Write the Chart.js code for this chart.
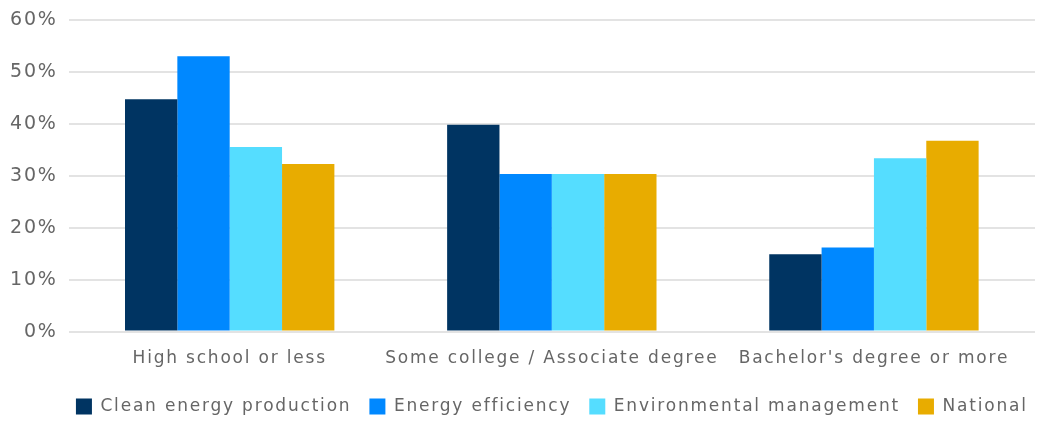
<!DOCTYPE html>
<html>
<head>
<meta charset="utf-8">
<script src="https://cdn.jsdelivr.net/npm/chart.js@4"></script>
<style>
  html, body { margin: 0; padding: 0; background: #fff; }
  #wrap { width: 1037px; height: 421px; }
</style>
</head>
<body>
<div id="wrap"><canvas id="myChart"></canvas></div>
<script>
var labels = ['High school or less', 'Some college / Associate degree', "Bachelor's degree or more"];
var cleanEnergy = [44.8, 39.9, 14.9];
var energyEfficiency = [53.1, 30.4, 16.2];
var environmental = [35.6, 30.4, 33.4];
var national = [32.3, 30.4, 36.8];
var yTicks = [0, 10, 20, 30, 40, 50, 60];

var ctx = document.getElementById('myChart').getContext('2d');
var font = 'DejaVu Sans';

// the original text is set quite loose, so widen it a bit
var spacing = {
    id: 'spacing',
    beforeLayout: function (chart) { chart.ctx.letterSpacing = '1.8px'; },
    beforeDraw: function (chart) { chart.ctx.letterSpacing = '1.8px'; },
    // legend is centred under the plot, not under the whole canvas
    afterLayout: function (chart) {
        var lg = chart.legend;
        var d = (chart.chartArea.left + chart.chartArea.right) / 2 - (lg.left + lg.right) / 2;
        lg.left += d;
        lg.right += d;
    }
};

var myChart = new Chart(ctx, {
    type: 'bar',
    data: {
        labels: labels,
        datasets: [
            { label: 'Clean energy production', data: cleanEnergy, backgroundColor: '#003462' },
            { label: 'Energy efficiency', data: energyEfficiency, backgroundColor: '#0088ff' },
            { label: 'Environmental management', data: environmental, backgroundColor: '#55ddff' },
            { label: 'National', data: national, backgroundColor: '#e8ac00' }
        ]
    },
    plugins: [spacing],
    options: {
        responsive: true,
        maintainAspectRatio: false,
        animation: false,
        layout: { padding: { top: 0, right: 2, left: -1, bottom: -4 } },
        datasets: { bar: { categoryPercentage: 0.65, barPercentage: 1.0 } },
        plugins: {
            legend: {
                position: 'bottom',
                labels: {
                    boxWidth: 16,
                    boxHeight: 16,
                    padding: 18,
                    color: '#666',
                    font: { family: font, size: 17 }
                }
            },
            tooltip: { enabled: false }
        },
        scales: {
            x: {
                grid: { display: false },
                border: { display: false },
                afterFit: function (scale) { scale.height += 2; },
                ticks: {
                    color: '#666',
                    font: { family: font, size: 17 },
                    padding: 9,
                    maxRotation: 0,
                    minRotation: 0,
                    autoSkip: false
                }
            },
            y: {
                min: 0,
                max: 60,
                afterBuildTicks: function (axis) {
                    axis.ticks = yTicks.map(function (v) { return { value: v }; });
                },
                afterFit: function (scale) { scale.paddingTop = Math.max(0, scale.paddingTop - 2); },
                grid: { color: '#e3e3e3', lineWidth: 2, drawTicks: false },
                border: { display: false },
                ticks: {
                    color: '#666',
                    padding: 11,
                    font: { family: font, size: 19 },
                    callback: function (v) { return v + '%'; }
                }
            }
        }
    }
});
</script>
</body>
</html>
